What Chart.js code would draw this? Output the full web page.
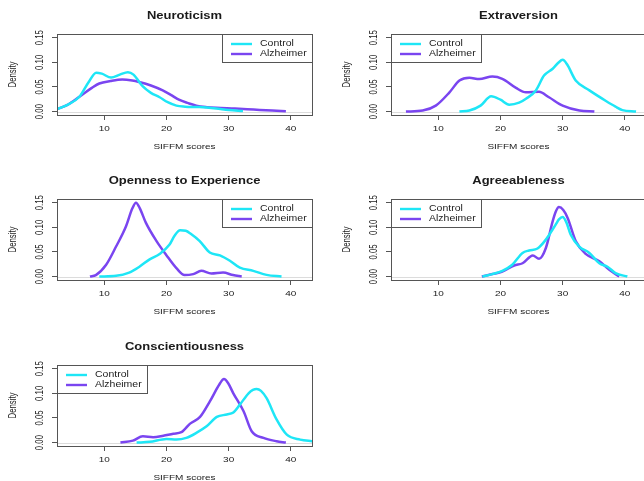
<!DOCTYPE html>
<html>
<head>
<meta charset="utf-8">
<script src="https://cdn.jsdelivr.net/npm/chart.js@4/dist/chart.umd.min.js"></script>
<style>
  html, body { margin: 0; padding: 0; background: #fff; }
  #wrap { position: relative; width: 644px; height: 481px; overflow: hidden; background: #fff; }
  #wrap canvas { position: absolute; }
</style>
</head>
<body>
<div id="wrap">
  <canvas id="p1" width="322" height="165" style="left:0px;top:0px"></canvas>
  <canvas id="p2" width="322" height="165" style="left:334px;top:0px"></canvas>
  <canvas id="p3" width="322" height="165" style="left:0px;top:165px"></canvas>
  <canvas id="p4" width="322" height="165" style="left:334px;top:165px"></canvas>
  <canvas id="p5" width="322" height="165" style="left:0px;top:331px"></canvas>
</div>
<script>
// Axis ticks shared by every panel
const xTicks = [10, 20, 30, 40];
const yTicks = [0, 0.05, 0.10, 0.15];
const yTickLabels = ['0.00', '0.05', '0.10', '0.15'];
const seriesNames = ['Control', 'Alzheimer'];
const panelTitles = ['Neuroticism', 'Extraversion', 'Openness to Experience', 'Agreeableness', 'Conscientiousness'];

// Kernel density estimates of SIFFM scores (x = score, d = density)
const neuroControlX = [2.4, 4, 6, 7.5, 8.7, 9.6, 11.1, 12.5, 13.8, 14.7, 16.2, 17.5, 18.9, 20.2, 21.6, 23, 25.3, 28, 30, 32.3];
const neuroControlD = [0.005, 0.013, 0.030, 0.060, 0.079, 0.077, 0.069, 0.075, 0.080, 0.075, 0.051, 0.038, 0.029, 0.019, 0.012, 0.010, 0.009, 0.006, 0.003, 0.001];
const neuroAlzX = [2.4, 4, 6, 8, 9.2, 11, 12.9, 14.5, 15.6, 17.5, 19.4, 20.7, 22, 23.5, 24.8, 26.5, 28, 31, 34, 37, 39.2];
const neuroAlzD = [0.005, 0.013, 0.030, 0.048, 0.057, 0.062, 0.065, 0.063, 0.060, 0.053, 0.043, 0.034, 0.024, 0.017, 0.012, 0.009, 0.0076, 0.006, 0.004, 0.002, 0.0005];

const extraControlX = [13.4, 15, 16.8, 18.5, 20, 21.4, 23, 24.1, 25.7, 27, 28.4, 29.3, 30, 30.7, 32.1, 34.3, 36.9, 38.5, 39.6, 41.8];
const extraControlD = [0, 0.002, 0.012, 0.031, 0.024, 0.014, 0.018, 0.026, 0.043, 0.073, 0.087, 0.099, 0.105, 0.096, 0.063, 0.043, 0.022, 0.010, 0.003, 0];
const extraAlzX = [4.8, 7.5, 9.6, 11.8, 13.4, 15, 16.6, 18.7, 20.3, 22.5, 24.1, 26.2, 27.8, 30, 32.7, 35.1];
const extraAlzD = [0, 0.002, 0.012, 0.039, 0.063, 0.0686, 0.066, 0.071, 0.0665, 0.048, 0.039, 0.040, 0.029, 0.012, 0.002, 0];

const openControlX = [9.2, 11.9, 14, 15.65, 17.3, 18.9, 20.5, 21.3, 22.2, 23.1, 23.9, 25.35, 26.96, 28.6, 30.2, 31.8, 33.96, 36.1, 38.5];
const openControlD = [0, 0.0014, 0.008, 0.020, 0.035, 0.046, 0.065, 0.083, 0.094, 0.093, 0.087, 0.072, 0.049, 0.043, 0.032, 0.018, 0.0116, 0.0034, 0];
const openAlzX = [7.7, 8.65, 10.3, 11.9, 13.5, 14.5, 15.1, 15.7, 16.7, 18.35, 19.96, 21.6, 22.9, 24.3, 25.6, 27.2, 29.1, 30.7, 32.1];
const openAlzD = [0, 0.003, 0.024, 0.061, 0.102, 0.138, 0.150, 0.139, 0.109, 0.073, 0.044, 0.017, 0.003, 0.005, 0.0116, 0.006, 0.008, 0.003, 0];

const agreeControlX = [17.1, 18.7, 20.3, 21.9, 23.55, 24.6, 25.96, 27.3, 28.9, 29.4, 30, 30.6, 31.3, 32.66, 34.3, 35.9, 37.2, 38.5, 40.4];
const agreeControlD = [0, 0.005, 0.0116, 0.024, 0.048, 0.053, 0.057, 0.075, 0.106, 0.116, 0.121, 0.110, 0.085, 0.061, 0.048, 0.027, 0.020, 0.007, 0];
const agreeAlzX = [17, 18.7, 20.3, 22.2, 23.55, 25.2, 26.2, 27.3, 28.4, 28.9, 29.4, 30.1, 30.8, 32.1, 33.7, 35.9, 37.5, 39.1];
const agreeAlzD = [0, 0.005, 0.010, 0.0225, 0.027, 0.043, 0.036, 0.058, 0.1125, 0.132, 0.141, 0.135, 0.119, 0.072, 0.046, 0.031, 0.0136, 0];

const conscControlX = [15.2, 17.3, 20, 21.6, 23.2, 24.8, 26.45, 28.1, 29.7, 30.75, 31.8, 33.2, 33.9, 34.5, 35.2, 36.1, 37.7, 39.35, 41.5, 43.5];
const conscControlD = [0, 0.0014, 0.0074, 0.006, 0.0095, 0.0196, 0.033, 0.052, 0.057, 0.061, 0.077, 0.100, 0.107, 0.109, 0.105, 0.090, 0.047, 0.016, 0.006, 0.0027];
const conscAlzX = [12.6, 14.6, 16.2, 17.85, 19.5, 21.1, 22.4, 23.8, 25.4, 27, 28.5, 29.25, 29.9, 30.75, 32.4, 33.7, 35.6, 37.7, 39.2];
const conscAlzD = [0, 0.004, 0.0128, 0.011, 0.014, 0.018, 0.021, 0.0385, 0.052, 0.084, 0.118, 0.129, 0.121, 0.100, 0.0635, 0.023, 0.0095, 0.0027, 0];

const CYAN = '#1ee6f6';
const PURPLE = '#7a45f0';
const INK = '#1a1a1a';
const FRAME = '#555555';
const FAMILY = '"Liberation Sans", Arial, Helvetica, sans-serif';
const SQ = 0.78; // vertical squash of the text glyphs

function pts(xs, ds) { return xs.map((x, i) => ({ x: x, y: ds[i] })); }

function txt(ctx, s, x, y, font, rot, align) {
  ctx.save();
  ctx.translate(x, y);
  ctx.scale(1, SQ);
  if (rot) ctx.rotate(-Math.PI / 2);
  ctx.font = font;
  ctx.fillStyle = INK;
  ctx.textAlign = align || 'center';
  ctx.textBaseline = 'middle';
  ctx.fillText(s, 0, 0);
  ctx.restore();
}

// Draws the R-style frame: zero line, box, labels, titles and legend
const framePlugin = {
  id: 'frame',
  beforeDatasetsDraw(chart) {
    const ctx = chart.ctx, a = chart.chartArea;
    const y0 = Math.round(chart.scales.y.getPixelForValue(0)) + 0.5;
    ctx.save();
    ctx.strokeStyle = '#dcdcdc';
    ctx.lineWidth = 1;
    ctx.beginPath();
    ctx.moveTo(a.left, y0);
    ctx.lineTo(a.right, y0);
    ctx.stroke();
    ctx.restore();
  },
  afterDraw(chart) {
    const ctx = chart.ctx, a = chart.chartArea;
    const o = chart.options.plugins.frame;
    const xs = chart.scales.x, ys = chart.scales.y;
    ctx.save();
    ctx.strokeStyle = FRAME;
    ctx.lineWidth = 1;
    ctx.strokeRect(Math.round(a.left) + 0.5, Math.round(a.top) + 0.5,
                   Math.round(a.right - a.left), Math.round(a.bottom - a.top));
    ctx.restore();

    const small = '10px ' + FAMILY;
    xTicks.forEach(v => txt(ctx, String(v), xs.getPixelForValue(v), a.bottom + 14, small));
    yTicks.forEach((v, i) => txt(ctx, yTickLabels[i], a.left - 17, ys.getPixelForValue(v), small, true));
    txt(ctx, 'SIFFM scores', (a.left + a.right) / 2, a.bottom + 32, small);
    txt(ctx, 'Density', 13, (a.top + a.bottom) / 2, small, true);
    txt(ctx, o.title, (a.left + a.right) / 2, 16, 'bold 13px ' + FAMILY);

    // legend
    const w = 90, h = 28;
    const lx = o.legend === 'right' ? a.right - w : a.left;
    const ly = a.top;
    ctx.save();
    ctx.strokeStyle = FRAME;
    ctx.lineWidth = 1;
    ctx.strokeRect(Math.round(lx) + 0.5, Math.round(ly) + 0.5, w, h);
    const cols = [CYAN, PURPLE];
    seriesNames.forEach((name, i) => {
      const yy = ly + 10 + i * 10;
      ctx.strokeStyle = cols[i];
      ctx.lineWidth = 2.4;
      ctx.beginPath();
      ctx.moveTo(lx + 9, yy);
      ctx.lineTo(lx + 30, yy);
      ctx.stroke();
      txt(ctx, name, lx + 38, yy, '10.5px ' + FAMILY, false, 'left');
    });
    ctx.restore();
  }
};

function makePanel(id, title, legendSide, cx, cd, ax, ad) {
  const line = (label, color, data) => ({
    label: label, data: data, borderColor: color, backgroundColor: color,
    borderWidth: 2.5, pointRadius: 0, fill: false,
    cubicInterpolationMode: 'monotone'
  });
  new Chart(document.getElementById(id), {
    type: 'line',
    data: { datasets: [line(seriesNames[0], CYAN, pts(cx, cd)), line(seriesNames[1], PURPLE, pts(ax, ad))] },
    plugins: [framePlugin],
    options: {
      responsive: false, animation: false, devicePixelRatio: 1,
      layout: { padding: { top: 34, right: 10, left: 0, bottom: 0 } },
      plugins: { legend: { display: false }, tooltip: { enabled: false }, title: { display: false },
                 frame: { title: title, legend: legendSide } },
      scales: {
        x: {
          type: 'linear', min: 2.4, max: 43.4,
          afterBuildTicks: s => { s.ticks = xTicks.map(v => ({ value: v })); },
          afterFit: s => { s.height = 50; },
          grid: { drawOnChartArea: false, drawTicks: true, tickLength: 5, color: FRAME, lineWidth: 1 },
          border: { display: true, color: FRAME, width: 1 },
          ticks: { display: true, autoSkip: false, color: 'rgba(0,0,0,0)', maxRotation: 0 }
        },
        y: {
          type: 'linear', min: -0.007, max: 0.1575,
          afterBuildTicks: s => { s.ticks = yTicks.map(v => ({ value: v })); },
          afterFit: s => { s.width = 57; },
          grid: { drawOnChartArea: false, drawTicks: true, tickLength: 5, color: FRAME, lineWidth: 1 },
          border: { display: true, color: FRAME, width: 1 },
          ticks: { display: true, autoSkip: false, color: 'rgba(0,0,0,0)' }
        }
      }
    }
  });
}

makePanel('p1', panelTitles[0], 'right', neuroControlX, neuroControlD, neuroAlzX, neuroAlzD);
makePanel('p2', panelTitles[1], 'left', extraControlX, extraControlD, extraAlzX, extraAlzD);
makePanel('p3', panelTitles[2], 'right', openControlX, openControlD, openAlzX, openAlzD);
makePanel('p4', panelTitles[3], 'left', agreeControlX, agreeControlD, agreeAlzX, agreeAlzD);
makePanel('p5', panelTitles[4], 'left', conscControlX, conscControlD, conscAlzX, conscAlzD);
</script>
</body>
</html>
